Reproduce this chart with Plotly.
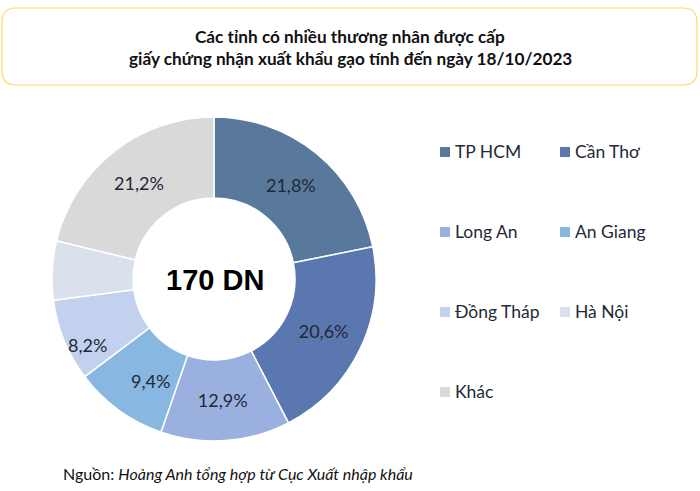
import plotly.graph_objects as go

W = 700
H = 491

labels = ["TP HCM", "Cần Thơ", "Long An", "An Giang", "Đồng Tháp", "Hà Nội", "Khác"]
values = [21.8, 20.6, 12.9, 9.4, 8.2, 5.9, 21.2]
value_text = ["21,8%", "20,6%", "12,9%", "9,4%", "8,2%", "", "21,2%"]
colors = ["#58799B", "#5B77AF", "#9AB1DF", "#88B7E1", "#C2D2EE", "#DBE1EC", "#D9D9D9"]

title_lines = ["Các tỉnh có nhiều thương nhân được cấp",
               "giấy chứng nhận xuất khẩu gạo tính đến ngày 18/10/2023"]
center_label = "170 DN"
source_text = "Nguồn: <i>Hoàng Anh tổng hợp từ Cục Xuất nhập khẩu</i>"

FONT = "Lato, 'Noto Sans', sans-serif"
TEXT = "#1F2937"

# these two labels were dragged by hand in the original, so they sit off the slice middle
moved_labels = {"An Giang": (150, 381), "Đồng Tháp": (87, 345)}


def px_x(x):
    return x / W


def px_y(y):
    return 1 - y / H


pie_text = ["" if lab in moved_labels else txt for lab, txt in zip(labels, value_text)]

fig = go.Figure(go.Pie(
    labels=labels,
    values=values,
    text=pie_text,
    textinfo="text",
    textposition="inside",
    insidetextorientation="horizontal",
    hole=0.5,
    sort=False,
    direction="clockwise",
    rotation=0,
    marker=dict(colors=colors, line=dict(color="white", width=1.5)),
    textfont=dict(family=FONT, size=18, color=TEXT),
    domain=dict(x=[px_x(52), px_x(376)], y=[px_y(441), px_y(117)]),
    showlegend=False,
))

# title box
x0, x1, y0, y1, r = 2, 697, 8, 85, 14
box = (f"M {x0 + r} {y0} L {x1 - r} {y0} Q {x1} {y0} {x1} {y0 + r} "
       f"L {x1} {y1 - r} Q {x1} {y1} {x1 - r} {y1} "
       f"L {x0 + r} {y1} Q {x0} {y1} {x0} {y1 - r} "
       f"L {x0} {y0 + r} Q {x0} {y0} {x0 + r} {y0} Z")
shapes = [dict(type="path", path=box, xref="x", yref="y",
               line=dict(color="#FFD966", width=1.2), fillcolor="white")]

annotations = []
for text, y in zip(title_lines, [36, 58]):
    annotations.append(dict(x=350, y=y, text="<b>" + text + "</b>", xref="x", yref="y",
                            showarrow=False, xanchor="center", yanchor="middle",
                            font=dict(family=FONT, size=17.2, color="#111111")))

annotations.append(dict(x=214.5, y=280, text="<b>" + center_label + "</b>", xref="x", yref="y",
                        showarrow=False, xanchor="center", yanchor="middle",
                        font=dict(family="'Liberation Sans', Arial, sans-serif", size=29, color="black")))

annotations.append(dict(x=61, y=473, text=source_text, xref="x", yref="y",
                        showarrow=False, xanchor="left", yanchor="middle",
                        font=dict(family=FONT, size=16, color="#111111")))

for lab, (mx, my) in moved_labels.items():
    annotations.append(dict(x=mx, y=my, text=value_text[labels.index(lab)], xref="x", yref="y",
                            showarrow=False, xanchor="center", yanchor="middle",
                            font=dict(family=FONT, size=18, color=TEXT)))

# legend, two columns with wide rows
col_x = [440, 560]
row_y = [152, 232, 312, 392]
for i, (label, color) in enumerate(zip(labels, colors)):
    lx = col_x[i % 2]
    ly = row_y[i // 2]
    shapes.append(dict(type="rect", xref="x", yref="y", x0=lx, x1=lx + 10, y0=ly - 5, y1=ly + 5,
                       fillcolor=color, line=dict(width=0)))
    annotations.append(dict(x=lx + 13, y=ly - 1, text=label, xref="x", yref="y",
                            showarrow=False, xanchor="left", yanchor="middle",
                            font=dict(family=FONT, size=17.5, color=TEXT)))

fig.update_layout(
    width=W,
    height=H,
    margin=dict(l=0, r=0, t=0, b=0),
    paper_bgcolor="white",
    plot_bgcolor="white",
    xaxis=dict(range=[0, W], visible=False, fixedrange=True),
    yaxis=dict(range=[H, 0], visible=False, fixedrange=True),
    shapes=shapes,
    annotations=annotations,
)

# page has a default body margin, which would shift the chart by 8px
fig.write_html("out.html", config=dict(displayModeBar=False),
               post_script="document.body.style.margin = '0';")
